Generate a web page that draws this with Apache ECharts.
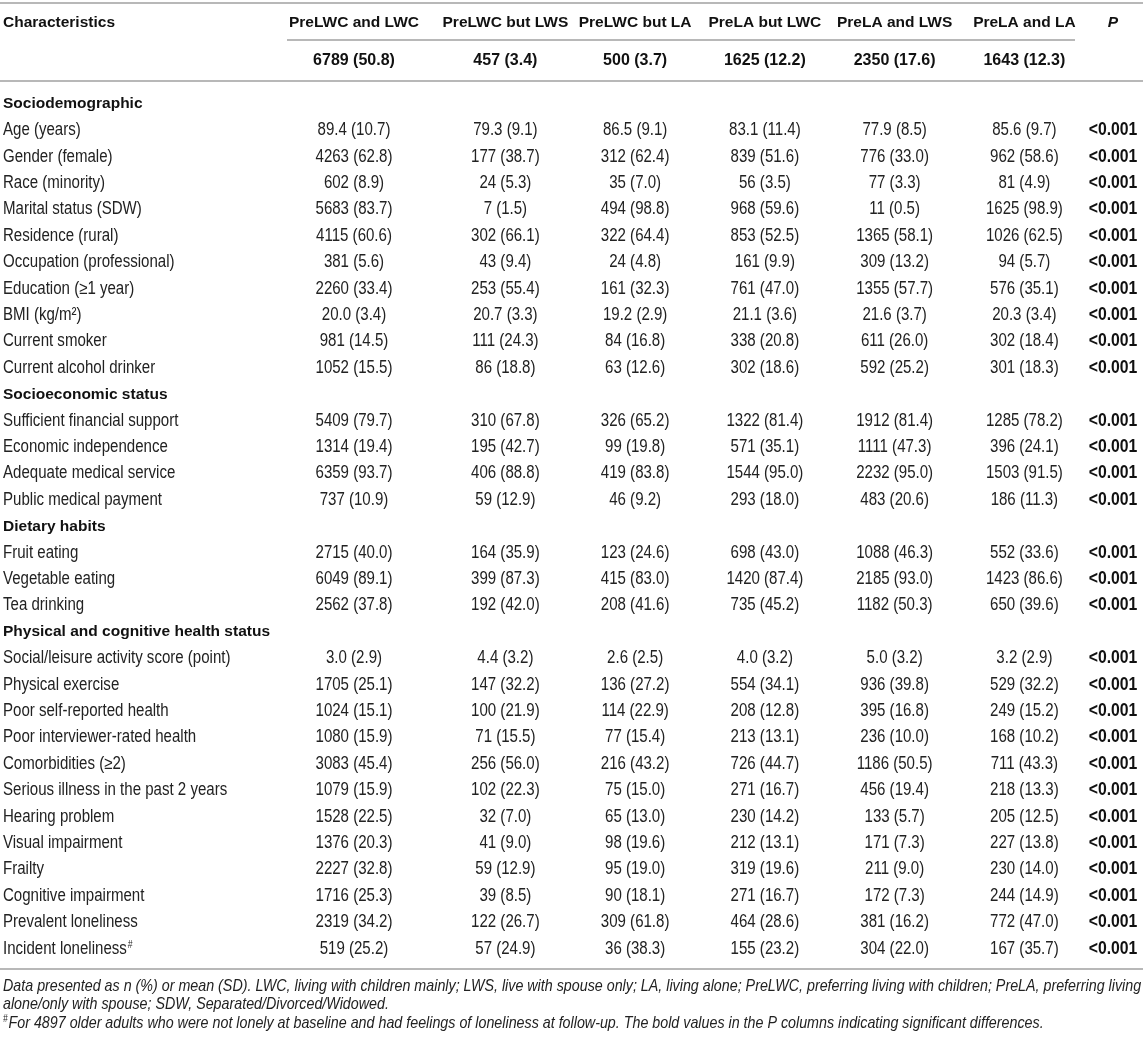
<!DOCTYPE html>
<html>
<head>
<meta charset="utf-8">
<script src="https://cdn.jsdelivr.net/npm/echarts@6/dist/echarts.min.js"></script>
<style>
html, body { margin: 0; padding: 0; background: #fff; }
#main { width: 1143px; height: 1037px; }
</style>
</head>
<body>
<div id="main"></div>
<script>
// column headers and group sizes
var groups = ['PreLWC and LWC', 'PreLWC but LWS', 'PreLWC but LA', 'PreLA but LWC', 'PreLA and LWS', 'PreLA and LA'];
var groupN = ['6789 (50.8)', '457 (3.4)', '500 (3.7)', '1625 (12.2)', '2350 (17.6)', '1643 (12.3)'];

// row labels, section titles included
var sections = ['Sociodemographic', 'Socioeconomic status', 'Dietary habits', 'Physical and cognitive health status'];
var rowLabels = [
    'Sociodemographic',
    'Age (years)', 'Gender (female)', 'Race (minority)', 'Marital status (SDW)', 'Residence (rural)',
    'Occupation (professional)', 'Education (≥1 year)', 'BMI (kg/m²)', 'Current smoker', 'Current alcohol drinker',
    'Socioeconomic status',
    'Sufficient financial support', 'Economic independence', 'Adequate medical service', 'Public medical payment',
    'Dietary habits',
    'Fruit eating', 'Vegetable eating', 'Tea drinking',
    'Physical and cognitive health status',
    'Social/leisure activity score (point)', 'Physical exercise', 'Poor self-reported health',
    'Poor interviewer-rated health', 'Comorbidities (≥2)', 'Serious illness in the past 2 years',
    'Hearing problem', 'Visual impairment', 'Frailty', 'Cognitive impairment',
    'Prevalent loneliness', 'Incident loneliness#'
];

// values per group, one per non-section row
var preLWC_LWC = ['89.4 (10.7)', '4263 (62.8)', '602 (8.9)', '5683 (83.7)', '4115 (60.6)', '381 (5.6)', '2260 (33.4)', '20.0 (3.4)', '981 (14.5)', '1052 (15.5)',
    '5409 (79.7)', '1314 (19.4)', '6359 (93.7)', '737 (10.9)',
    '2715 (40.0)', '6049 (89.1)', '2562 (37.8)',
    '3.0 (2.9)', '1705 (25.1)', '1024 (15.1)', '1080 (15.9)', '3083 (45.4)', '1079 (15.9)', '1528 (22.5)', '1376 (20.3)', '2227 (32.8)', '1716 (25.3)', '2319 (34.2)', '519 (25.2)'];
var preLWC_LWS = ['79.3 (9.1)', '177 (38.7)', '24 (5.3)', '7 (1.5)', '302 (66.1)', '43 (9.4)', '253 (55.4)', '20.7 (3.3)', '111 (24.3)', '86 (18.8)',
    '310 (67.8)', '195 (42.7)', '406 (88.8)', '59 (12.9)',
    '164 (35.9)', '399 (87.3)', '192 (42.0)',
    '4.4 (3.2)', '147 (32.2)', '100 (21.9)', '71 (15.5)', '256 (56.0)', '102 (22.3)', '32 (7.0)', '41 (9.0)', '59 (12.9)', '39 (8.5)', '122 (26.7)', '57 (24.9)'];
var preLWC_LA = ['86.5 (9.1)', '312 (62.4)', '35 (7.0)', '494 (98.8)', '322 (64.4)', '24 (4.8)', '161 (32.3)', '19.2 (2.9)', '84 (16.8)', '63 (12.6)',
    '326 (65.2)', '99 (19.8)', '419 (83.8)', '46 (9.2)',
    '123 (24.6)', '415 (83.0)', '208 (41.6)',
    '2.6 (2.5)', '136 (27.2)', '114 (22.9)', '77 (15.4)', '216 (43.2)', '75 (15.0)', '65 (13.0)', '98 (19.6)', '95 (19.0)', '90 (18.1)', '309 (61.8)', '36 (38.3)'];
var preLA_LWC = ['83.1 (11.4)', '839 (51.6)', '56 (3.5)', '968 (59.6)', '853 (52.5)', '161 (9.9)', '761 (47.0)', '21.1 (3.6)', '338 (20.8)', '302 (18.6)',
    '1322 (81.4)', '571 (35.1)', '1544 (95.0)', '293 (18.0)',
    '698 (43.0)', '1420 (87.4)', '735 (45.2)',
    '4.0 (3.2)', '554 (34.1)', '208 (12.8)', '213 (13.1)', '726 (44.7)', '271 (16.7)', '230 (14.2)', '212 (13.1)', '319 (19.6)', '271 (16.7)', '464 (28.6)', '155 (23.2)'];
var preLA_LWS = ['77.9 (8.5)', '776 (33.0)', '77 (3.3)', '11 (0.5)', '1365 (58.1)', '309 (13.2)', '1355 (57.7)', '21.6 (3.7)', '611 (26.0)', '592 (25.2)',
    '1912 (81.4)', '1111 (47.3)', '2232 (95.0)', '483 (20.6)',
    '1088 (46.3)', '2185 (93.0)', '1182 (50.3)',
    '5.0 (3.2)', '936 (39.8)', '395 (16.8)', '236 (10.0)', '1186 (50.5)', '456 (19.4)', '133 (5.7)', '171 (7.3)', '211 (9.0)', '172 (7.3)', '381 (16.2)', '304 (22.0)'];
var preLA_LA = ['85.6 (9.7)', '962 (58.6)', '81 (4.9)', '1625 (98.9)', '1026 (62.5)', '94 (5.7)', '576 (35.1)', '20.3 (3.4)', '302 (18.4)', '301 (18.3)',
    '1285 (78.2)', '396 (24.1)', '1503 (91.5)', '186 (11.3)',
    '552 (33.6)', '1423 (86.6)', '650 (39.6)',
    '3.2 (2.9)', '529 (32.2)', '249 (15.2)', '168 (10.2)', '711 (43.3)', '218 (13.3)', '205 (12.5)', '227 (13.8)', '230 (14.0)', '244 (14.9)', '772 (47.0)', '167 (35.7)'];
var pValues = ['<0.001', '<0.001', '<0.001', '<0.001', '<0.001', '<0.001', '<0.001', '<0.001', '<0.001', '<0.001',
    '<0.001', '<0.001', '<0.001', '<0.001',
    '<0.001', '<0.001', '<0.001',
    '<0.001', '<0.001', '<0.001', '<0.001', '<0.001', '<0.001', '<0.001', '<0.001', '<0.001', '<0.001', '<0.001', '<0.001'];

var notes = [
    'Data presented as n (%) or mean (SD). LWC, living with children mainly; LWS, live with spouse only; LA, living alone; PreLWC, preferring living with children; PreLA, preferring living',
    'alone/only with spouse; SDW, Separated/Divorced/Widowed.',
    'For 4897 older adults who were not lonely at baseline and had feelings of loneliness at follow-up. The bold values in the P columns indicating significant differences.'
];

var FONT = '"Liberation Sans", Arial, Helvetica, sans-serif';
var RULE = '#b8b8b8';
var INK = '#222';
// body text is a tall, narrow face: draw it larger and squeeze it sideways
var BODY_FS = 17.5, BODY_SX = 0.86;
var HEAD_FS = 15.5;

// layout
var rowH = 26.4;
var bodyTop = 104 - rowH / 2;
var bodyH = rowH * rowLabels.length;
var headY = 23, nY = 61;

var cols = [preLWC_LWC, preLWC_LWS, preLWC_LA, preLA_LWC, preLA_LWS, preLA_LA];

// first column sits a little apart from the other five
var panels = [
    { idx: [0], left: 294, width: 120 },
    { idx: [1, 2, 3, 4, 5], left: 440.5, width: 648.75 }
];

function buildCells(idx) {
    var data = [], texts = [], k = 0;
    rowLabels.forEach(function (r) {
        if (sections.indexOf(r) >= 0) return;
        idx.forEach(function (j) {
            data.push([groups[j], r]);
            texts.push(cols[j][k]);
        });
        k++;
    });
    return { data: data, texts: texts };
}

var labelData = rowLabels.map(function (r) { return ['label', r]; });
var pData = [];
rowLabels.forEach(function (r) {
    if (sections.indexOf(r) < 0) pData.push(['P', r]);
});

function textItem(texts, bold) {
    return function (params, api) {
        var p = api.coord([api.value(0), api.value(1)]);
        return {
            type: 'text',
            x: p[0],
            y: p[1],
            scaleX: bold ? 0.9 : BODY_SX,
            style: {
                text: texts[params.dataIndex],
                font: (bold ? 'bold ' : '') + BODY_FS + 'px ' + FONT,
                fill: bold ? '#111' : INK,
                align: 'center',
                verticalAlign: 'middle'
            }
        };
    };
}

function labelItem(params, api) {
    var p = api.coord([api.value(0), api.value(1)]);
    var name = rowLabels[params.dataIndex];
    var isSec = sections.indexOf(name) >= 0;
    var hasSup = name.slice(-1) === '#';
    return {
        type: 'text',
        x: p[0],
        y: p[1],
        scaleX: isSec ? 1 : BODY_SX,
        style: {
            text: hasSup ? name.slice(0, -1) + '{sup|#}' : name,
            font: isSec ? 'bold ' + HEAD_FS + 'px ' + FONT : BODY_FS + 'px ' + FONT,
            fill: isSec ? '#111' : INK,
            align: 'left',
            verticalAlign: 'middle',
            rich: {
                sup: { font: '10px ' + FONT, fill: INK, verticalAlign: 'top', padding: [0, 0, 8, 1] }
            }
        }
    };
}

var hidden = { axisLine: { show: false }, axisTick: { show: false }, splitLine: { show: false } };
function axis(o) { return echarts.util.merge(o, hidden); }

var grid = [], xAxis = [], yAxis = [], series = [];

panels.forEach(function (pn) {
    var gi = grid.length;
    grid.push({ left: pn.left, width: pn.width, top: bodyTop, height: bodyH });
    var names = pn.idx.map(function (j) { return groups[j]; });
    var xi = xAxis.length;
    xAxis.push(axis({
        type: 'category', gridIndex: gi, position: 'top', data: names,
        axisLabel: {
            interval: 0, margin: bodyTop - headY, verticalAlign: 'middle',
            fontFamily: FONT, fontSize: HEAD_FS, fontWeight: 'bold', color: '#111'
        }
    }));
    xAxis.push(axis({
        type: 'category', gridIndex: gi, position: 'top', data: names,
        axisLabel: {
            interval: 0, margin: bodyTop - nY, verticalAlign: 'middle',
            fontFamily: FONT, fontSize: 16, fontWeight: 'bold', color: '#111',
            formatter: function (v) { return groupN[groups.indexOf(v)]; }
        }
    }));
    var yi = yAxis.length;
    yAxis.push(axis({ type: 'category', gridIndex: gi, data: rowLabels, inverse: true, axisLabel: { show: false } }));
    var cells = buildCells(pn.idx);
    series.push({
        type: 'custom', name: 'cells' + gi, xAxisIndex: xi, yAxisIndex: yi, clip: false,
        renderItem: textItem(cells.texts, false), data: cells.data, silent: true
    });
});

// P column
grid.push({ left: 1084, width: 58, top: bodyTop, height: bodyH });
xAxis.push(axis({
    type: 'category', gridIndex: grid.length - 1, position: 'top', data: ['P'],
    axisLabel: {
        interval: 0, margin: bodyTop - headY, verticalAlign: 'middle',
        fontFamily: FONT, fontSize: HEAD_FS, fontWeight: 'bold', fontStyle: 'italic', color: '#111'
    }
}));
yAxis.push(axis({ type: 'category', gridIndex: grid.length - 1, data: rowLabels, inverse: true, axisLabel: { show: false } }));
series.push({
    type: 'custom', name: 'p', xAxisIndex: xAxis.length - 1, yAxisIndex: yAxis.length - 1, clip: false,
    renderItem: textItem(pValues, true), data: pData, silent: true
});

// row label column
grid.push({ left: 3, width: 0.01, top: bodyTop, height: bodyH });
xAxis.push(axis({ type: 'category', gridIndex: grid.length - 1, data: ['label'], axisLabel: { show: false } }));
yAxis.push(axis({ type: 'category', gridIndex: grid.length - 1, data: rowLabels, inverse: true, axisLabel: { show: false } }));
series.push({
    type: 'custom', name: 'labels', xAxisIndex: xAxis.length - 1, yAxisIndex: yAxis.length - 1, clip: false,
    renderItem: labelItem, data: labelData, silent: true
});

var myChart = echarts.init(document.getElementById('main'));

var option = {
    backgroundColor: '#fff',
    animation: false,
    grid: grid,
    xAxis: xAxis,
    yAxis: yAxis,
    series: series,
    graphic: [
        { type: 'line', shape: { x1: 0, y1: 3, x2: 1143, y2: 3 }, style: { stroke: RULE, lineWidth: 2 } },
        { type: 'line', shape: { x1: 287, y1: 40, x2: 1075, y2: 40 }, style: { stroke: RULE, lineWidth: 2 } },
        { type: 'line', shape: { x1: 0, y1: 81, x2: 1143, y2: 81 }, style: { stroke: RULE, lineWidth: 2 } },
        { type: 'line', shape: { x1: 0, y1: 969, x2: 1143, y2: 969 }, style: { stroke: RULE, lineWidth: 2 } },
        {
            type: 'text', x: 3, y: headY,
            style: { text: 'Characteristics', font: 'bold ' + HEAD_FS + 'px ' + FONT, fill: '#111', verticalAlign: 'middle' }
        },
        {
            type: 'text', x: 3, y: 986, scaleX: 0.84,
            style: { text: notes[0], font: 'italic 17px ' + FONT, fill: INK, verticalAlign: 'middle' }
        },
        {
            type: 'text', x: 3, y: 1004, scaleX: 0.84,
            style: { text: notes[1], font: 'italic 17px ' + FONT, fill: INK, verticalAlign: 'middle' }
        },
        {
            type: 'text', x: 3, y: 1023, scaleX: 0.84,
            style: {
                text: '{sup|#}' + notes[2],
                font: 'italic 17px ' + FONT, fill: INK, verticalAlign: 'middle',
                rich: { sup: { font: 'italic 10px ' + FONT, fill: INK, verticalAlign: 'top', padding: [0, 1, 8, 0] } }
            }
        }
    ]
};

myChart.setOption(option);
</script>
</body>
</html>
